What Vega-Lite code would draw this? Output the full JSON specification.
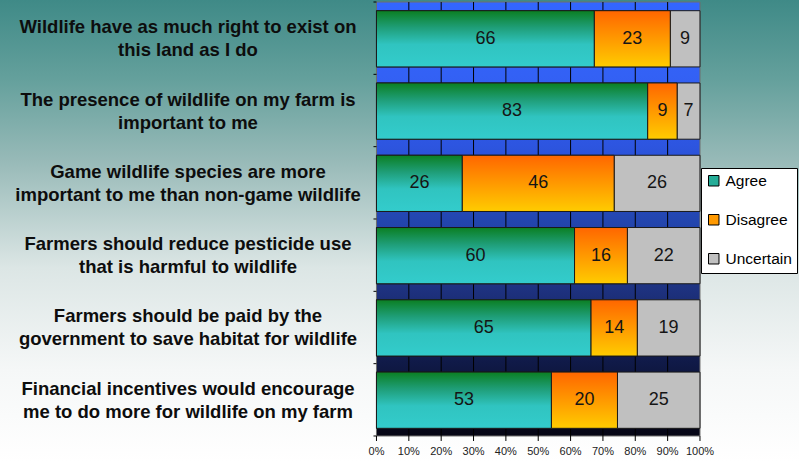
{
  "$schema": "https://vega.github.io/schema/vega-lite/v6.json",
  "width": 799,
  "height": 462,
  "autosize": {"type": "none"},
  "padding": 0,
  "background": "#ffffff",
  "config": {
    "font": "Liberation Sans",
    "lineBreak": "\n",
    "view": {
      "stroke": null,
      "fill": {
        "gradient": "linear", "x1": 0, "y1": 0, "x2": 0, "y2": 1,
        "stops": [
          {"offset": 0, "color": "#3f8a87"},
          {"offset": 0.17, "color": "#64a09c"},
          {"offset": 0.35, "color": "#98bab8"},
          {"offset": 0.58, "color": "#dce6e5"},
          {"offset": 0.8, "color": "#f5f7f7"},
          {"offset": 1, "color": "#ffffff"}
        ]
      }
    }
  },
  "datasets": {
    "responses": [
      {"statement": "Wildlife have as much right to exist on\nthis land as I do", "response": "Agree", "percent": 66},
      {"statement": "Wildlife have as much right to exist on\nthis land as I do", "response": "Disagree", "percent": 23},
      {"statement": "Wildlife have as much right to exist on\nthis land as I do", "response": "Uncertain", "percent": 9},
      {"statement": "The presence of wildlife on my farm is\nimportant to me", "response": "Agree", "percent": 83},
      {"statement": "The presence of wildlife on my farm is\nimportant to me", "response": "Disagree", "percent": 9},
      {"statement": "The presence of wildlife on my farm is\nimportant to me", "response": "Uncertain", "percent": 7},
      {"statement": "Game wildlife species are more\nimportant to me than non-game wildlife", "response": "Agree", "percent": 26},
      {"statement": "Game wildlife species are more\nimportant to me than non-game wildlife", "response": "Disagree", "percent": 46},
      {"statement": "Game wildlife species are more\nimportant to me than non-game wildlife", "response": "Uncertain", "percent": 26},
      {"statement": "Farmers should reduce pesticide use\nthat is harmful to wildlife", "response": "Agree", "percent": 60},
      {"statement": "Farmers should reduce pesticide use\nthat is harmful to wildlife", "response": "Disagree", "percent": 16},
      {"statement": "Farmers should reduce pesticide use\nthat is harmful to wildlife", "response": "Uncertain", "percent": 22},
      {"statement": "Farmers should be paid by the\ngovernment to save habitat for wildlife", "response": "Agree", "percent": 65},
      {"statement": "Farmers should be paid by the\ngovernment to save habitat for wildlife", "response": "Disagree", "percent": 14},
      {"statement": "Farmers should be paid by the\ngovernment to save habitat for wildlife", "response": "Uncertain", "percent": 19},
      {"statement": "Financial incentives would encourage\nme to do more for wildlife on my farm", "response": "Agree", "percent": 53},
      {"statement": "Financial incentives would encourage\nme to do more for wildlife on my farm", "response": "Disagree", "percent": 20},
      {"statement": "Financial incentives would encourage\nme to do more for wildlife on my farm", "response": "Uncertain", "percent": 25}
    ],
    "gridlines": [
      {"share": 0.1}, {"share": 0.2}, {"share": 0.3}, {"share": 0.4}, {"share": 0.5},
      {"share": 0.6}, {"share": 0.7}, {"share": 0.8}, {"share": 0.9}
    ],
    "axisTicks": [
      {"share": 0}, {"share": 0.1}, {"share": 0.2}, {"share": 0.3}, {"share": 0.4}, {"share": 0.5},
      {"share": 0.6}, {"share": 0.7}, {"share": 0.8}, {"share": 0.9}, {"share": 1}
    ],
    "rowEdges": [
      {"edge": 0}, {"edge": 0.16667}, {"edge": 0.33333}, {"edge": 0.5},
      {"edge": 0.66667}, {"edge": 0.83333}, {"edge": 1}
    ]
  },
  "resolve": {"scale": {"y": "independent"}},
  "layer": [
    {
      "data": {"values": [{"panel": "plot"}]},
      "mark": {
        "type": "rect",
        "stroke": "#6e6e6e",
        "strokeWidth": 1,
        "fill": {
          "gradient": "linear", "x1": 0, "y1": 0, "x2": 0, "y2": 1,
          "stops": [
            {"offset": 0, "color": "#3366ff"},
            {"offset": 0.17, "color": "#3361f5"},
            {"offset": 0.33, "color": "#2d55e0"},
            {"offset": 0.5, "color": "#2346b0"},
            {"offset": 0.66, "color": "#1e3280"},
            {"offset": 0.83, "color": "#101a48"},
            {"offset": 1, "color": "#050514"}
          ]
        }
      },
      "encoding": {
        "x": {"datum": 0, "type": "quantitative", "scale": {"domain": [-1.1638, 1.3061], "nice": false, "zero": false}, "axis": null},
        "x2": {"datum": 1},
        "y": {"datum": 0, "type": "quantitative", "scale": {"domain": [-0.05991, 1.00461], "nice": false, "zero": false}, "axis": null},
        "y2": {"datum": 1}
      }
    },
    {
      "data": {"name": "gridlines"},
      "mark": {"type": "rule", "color": "#000000", "strokeWidth": 1},
      "encoding": {
        "x": {"field": "share", "type": "quantitative", "scale": {"domain": [-1.1638, 1.3061], "nice": false, "zero": false}, "axis": null},
        "y": {"datum": 0, "type": "quantitative", "scale": {"domain": [-0.05991, 1.00461], "nice": false, "zero": false}, "axis": null},
        "y2": {"datum": 1}
      }
    },
    {
      "data": {"name": "axisTicks"},
      "mark": {"type": "rule", "color": "#000000", "strokeWidth": 1},
      "encoding": {
        "x": {"field": "share", "type": "quantitative", "scale": {"domain": [-1.1638, 1.3061], "nice": false, "zero": false}, "axis": null},
        "y": {"datum": 0, "type": "quantitative", "scale": {"domain": [-0.05991, 1.00461], "nice": false, "zero": false}, "axis": null},
        "y2": {"datum": -0.0115}
      }
    },
    {
      "data": {"name": "rowEdges"},
      "mark": {"type": "rule", "color": "#000000", "strokeWidth": 1},
      "encoding": {
        "x": {"datum": -0.0093, "type": "quantitative", "scale": {"domain": [-1.1638, 1.3061], "nice": false, "zero": false}, "axis": null},
        "x2": {"datum": 0},
        "y": {"field": "edge", "type": "quantitative", "scale": {"domain": [-0.05991, 1.00461], "nice": false, "zero": false}, "axis": null}
      }
    },
    {
      "data": {"name": "axisTicks"},
      "mark": {"type": "text", "fontSize": 11, "color": "#222222", "baseline": "middle", "align": "center"},
      "encoding": {
        "x": {"field": "share", "type": "quantitative", "scale": {"domain": [-1.1638, 1.3061], "nice": false, "zero": false}, "axis": null},
        "y": {"datum": -0.0378, "type": "quantitative", "scale": {"domain": [-0.05991, 1.00461], "nice": false, "zero": false}, "axis": null},
        "text": {"field": "share", "type": "quantitative", "format": ".0%"}
      }
    },
    {
      "data": {"name": "responses"},
      "mark": {"type": "bar", "stroke": "#1a1a1a", "strokeWidth": 1},
      "encoding": {
        "y": {
          "field": "statement", "type": "nominal", "sort": null,
          "scale": {"type": "band", "paddingInner": 0.222, "paddingOuter": 0.307, "align": 0.241},
          "axis": {
            "orient": "left", "offset": -376.5, "domain": false, "ticks": false, "tickSize": 0,
            "labelPadding": 189, "labelAlign": "center", "labelOffset": -11.5, "labelFontSize": 18.5, "labelFontWeight": "bold",
            "labelColor": "#0d0d0d", "labelLineHeight": 23, "labelLimit": 0, "title": null, "grid": false
          }
        },
        "x": {
          "field": "percent", "type": "quantitative", "stack": "normalize",
          "scale": {"domain": [-1.1638, 1.3061], "nice": false, "zero": false},
          "axis": null
        },
        "color": {
          "field": "response", "type": "nominal",
          "scale": {"domain": ["Agree", "Disagree", "Uncertain"], "range": ["#25ad98", "#ff9900", "#c0c0c0"]},
          "legend": {
            "orient": "none", "legendX": 701, "legendY": 168, "title": null,
            "fillColor": "#ffffff", "strokeColor": "#000000", "padding": 5, "rowPadding": 22,
            "symbolType": "square", "symbolSize": 110, "symbolStrokeColor": "#000000", "symbolStrokeWidth": 1,
            "symbolOpacity": 1,
            "labelFontSize": 15.5, "labelColor": "#000000", "labelOffset": 4, "cornerRadius": 0
          }
        }
      }
    },
    {
      "data": {"name": "responses"},
      "transform": [
        {"stack": "percent", "groupby": ["statement"], "offset": "normalize", "sort": [{"field": "response"}], "as": ["share_start", "share_end"]},
        {"filter": "datum.response == 'Agree'"}
      ],
      "mark": {
        "type": "bar", "stroke": "#1a1a1a", "strokeWidth": 1,
        "fill": {
          "gradient": "linear", "x1": 0, "y1": 0, "x2": 0, "y2": 1,
          "stops": [{"offset": 0, "color": "#0b7f22"}, {"offset": 0.3, "color": "#1f9e78"}, {"offset": 0.6, "color": "#30c4c0"}, {"offset": 1, "color": "#33cccc"}]
        }
      },
      "encoding": {
        "y": {
          "field": "statement", "type": "nominal", "sort": null,
          "scale": {"type": "band", "paddingInner": 0.222, "paddingOuter": 0.307, "align": 0.241},
          "axis": null
        },
        "x": {"field": "share_start", "type": "quantitative", "scale": {"domain": [-1.1638, 1.3061], "nice": false, "zero": false}, "axis": null},
        "x2": {"field": "share_end"}
      }
    },
    {
      "data": {"name": "responses"},
      "transform": [
        {"stack": "percent", "groupby": ["statement"], "offset": "normalize", "sort": [{"field": "response"}], "as": ["share_start", "share_end"]},
        {"filter": "datum.response == 'Disagree'"}
      ],
      "mark": {
        "type": "bar", "stroke": "#1a1a1a", "strokeWidth": 1,
        "fill": {
          "gradient": "linear", "x1": 0, "y1": 0, "x2": 0, "y2": 1,
          "stops": [{"offset": 0, "color": "#ff6600"}, {"offset": 1, "color": "#ffcc00"}]
        }
      },
      "encoding": {
        "y": {
          "field": "statement", "type": "nominal", "sort": null,
          "scale": {"type": "band", "paddingInner": 0.222, "paddingOuter": 0.307, "align": 0.241},
          "axis": null
        },
        "x": {"field": "share_start", "type": "quantitative", "scale": {"domain": [-1.1638, 1.3061], "nice": false, "zero": false}, "axis": null},
        "x2": {"field": "share_end"}
      }
    },
    {
      "data": {"name": "responses"},
      "transform": [
        {"stack": "percent", "groupby": ["statement"], "offset": "normalize", "sort": [{"field": "response"}], "as": ["share_start", "share_end"]},
        {"calculate": "(datum.share_start + datum.share_end) / 2", "as": "share_mid"}
      ],
      "mark": {"type": "text", "fontSize": 18, "color": "#151515", "baseline": "middle"},
      "encoding": {
        "y": {
          "field": "statement", "type": "nominal", "sort": null,
          "scale": {"type": "band", "paddingInner": 0.222, "paddingOuter": 0.307, "align": 0.241},
          "axis": null
        },
        "x": {"field": "share_mid", "type": "quantitative", "scale": {"domain": [-1.1638, 1.3061], "nice": false, "zero": false}, "axis": null},
        "text": {"field": "percent", "type": "quantitative"}
      }
    }
  ]
}
